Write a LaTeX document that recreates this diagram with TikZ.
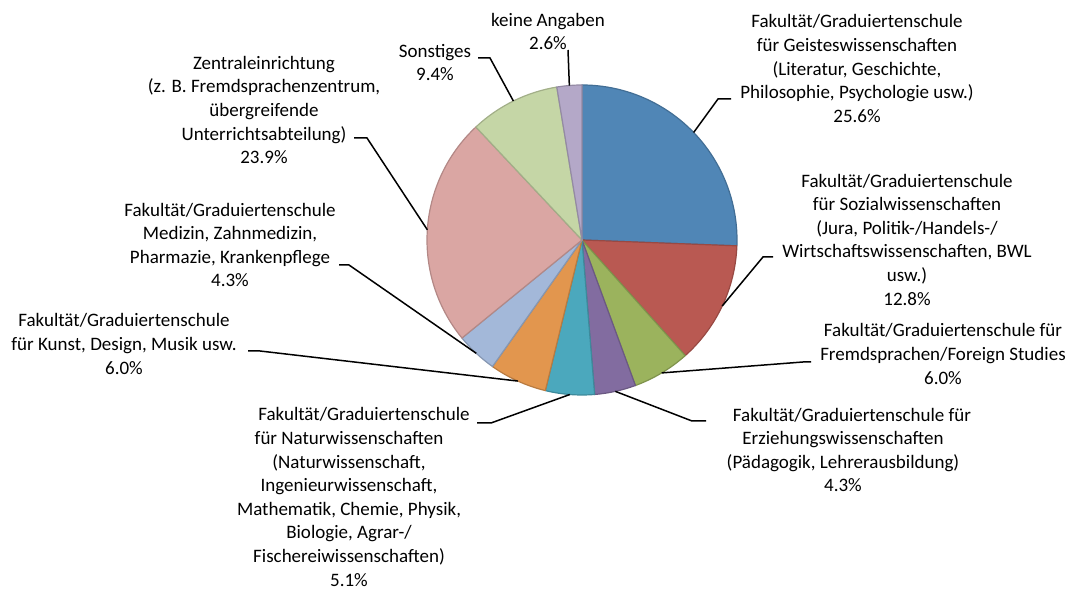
\documentclass[tikz,border=0pt]{standalone}
\usepackage{fontspec}
\setmainfont{Carlito}
\usepackage{tikz}

\definecolor{geistes}{RGB}{80,134,182}
\definecolor{sozial}{RGB}{185,89,82}
\definecolor{fremd}{RGB}{155,179,93}
\definecolor{erzieh}{RGB}{130,108,160}
\definecolor{natur}{RGB}{75,168,189}
\definecolor{kunst}{RGB}{226,150,78}
\definecolor{medizin}{RGB}{163,184,217}
\definecolor{zentral}{RGB}{218,166,163}
\definecolor{sonst}{RGB}{197,214,166}
\definecolor{keine}{RGB}{180,168,200}

\tikzset{
  lbl/.style={align=center, inner sep=0pt, font=\fontsize{19}{23.6}\selectfont},
  leader/.style={draw=black, line width=1.5pt},
  slice/.style={line width=1.2pt, line join=round}
}

\begin{document}
\begin{tikzpicture}[x=1pt, y=1pt]
\useasboundingbox (0,0) rectangle (1072,589);
\coordinate (O) at (582,349);
\foreach \a/\b/\n in {90/-2.16/geistes, -2.16/-48.24/sozial, -48.24/-69.84/fremd,
    -69.84/-85.32/erzieh, -85.32/-103.68/natur, -103.68/-125.28/kunst,
    -125.28/-140.76/medizin, -140.76/-226.8/zentral, -226.8/-260.64/sonst,
    -260.64/-270/keine}{
  \draw[slice, draw=\n!82!black, fill=\n] (O) -- ++(\a:155pt)
      arc[start angle=\a, end angle=\b, radius=155pt] -- cycle;
  \path (O) ++({(\a+\b)/2}:155pt) coordinate (\n P);
}

\node[lbl] (geisteslbl) at (857,520.5) {Fakultät/Graduiertenschule\\für Geisteswissenschaften\\(Literatur, Geschichte,\\Philosophie, Psychologie usw.)\\25.6\%};
\node[lbl] (soziallbl) at (907,349.5) {Fakultät/Graduiertenschule\\für Sozialwissenschaften\\(Jura, Politik-/Handels-/\\Wirtschaftswissenschaften, BWL\\usw.)\\12.8\%};
\node[lbl] (fremdlbl) at (943,235) {Fakultät/Graduiertenschule für\\Fremdsprachen/Foreign Studies\\6.0\%};
\node[lbl] (erziehlbl) at (843,139) {\hspace*{18pt}Fakultät/Graduiertenschule für\\Erziehungswissenschaften\\(Pädagogik, Lehrerausbildung)\\4.3\%};
\node[lbl] (naturlbl) at (349,92) {\hspace*{30pt}Fakultät/Graduiertenschule\\für Naturwissenschaften\\(Naturwissenschaft,\\Ingenieurwissenschaft,\\Mathematik, Chemie, Physik,\\Biologie, Agrar-/\\Fischereiwissenschaften)\\5.1\%};
\node[lbl] (kunstlbl) at (124,245) {Fakultät/Graduiertenschule\\für Kunst, Design, Musik usw.\\6.0\%};
\node[lbl] (medizinlbl) at (230,344) {Fakultät/Graduiertenschule\\Medizin, Zahnmedizin,\\Pharmazie, Krankenpflege\\4.3\%};
\node[lbl] (zentrallbl) at (264,479) {Zentraleinrichtung\\(z. B. Fremdsprachenzentrum,\\übergreifende\\Unterrichtsabteilung)\\23.9\%};
\node[lbl] (sonstlbl) at (435,526.5) {Sonstiges\\9.4\%};
\node[lbl] (keinelbl) at (548,557.5) {keine Angaben\\2.6\%};

\coordinate (geistesE) at (731,490);
\coordinate (sozialE) at (773,332);
\coordinate (fremdE) at (811,227);
\coordinate (erziehE) at (706,168);
\coordinate (naturE) at (477,166);
\coordinate (kunstE) at (248,238);
\coordinate (medizinE) at (339,324);
\coordinate (zentralE) at (354,451);
\coordinate (sonstE) at (478,531);
\coordinate (keineE) at (568,539);

\draw[leader] (geistesP) -- ([xshift=-13pt]geistesE) -- (geistesE);
\draw[leader] (sozialP) -- ([xshift=-10pt]sozialE) -- (sozialE);
\draw[leader] (fremdP) -- ([xshift=-8pt]fremdE) -- (fremdE);
\draw[leader] (erziehP) -- ([xshift=-14pt]erziehE) -- (erziehE);
\draw[leader] (naturP) -- ([xshift=14pt]naturE) -- (naturE);
\draw[leader] (kunstP) -- ([xshift=12pt]kunstE) -- (kunstE);
\draw[leader] (medizinP) -- ([xshift=10pt]medizinE) -- (medizinE);
\draw[leader] (zentralP) -- ([xshift=13pt]zentralE) -- (zentralE);
\draw[leader] (sonstP) -- ([xshift=12pt]sonstE) -- (sonstE);
\draw[leader] (keineP) -- (keineE);
\end{tikzpicture}
\end{document}
